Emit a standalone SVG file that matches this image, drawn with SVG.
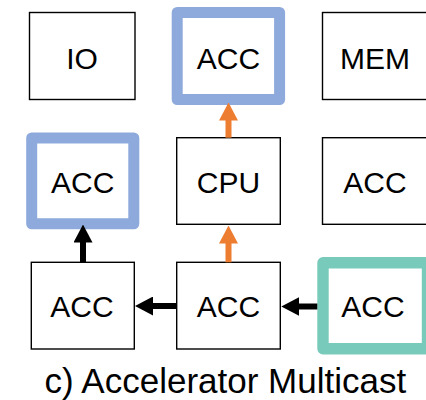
<svg xmlns="http://www.w3.org/2000/svg" width="426" height="400" viewBox="0 0 426 400">
  <style>
    .box { fill: #ffffff; stroke: #000000; stroke-width: 1.4; }
    .blue { fill: #ffffff; stroke: #8eaadc; stroke-width: 11; stroke-linejoin: round; }
    .teal { fill: #ffffff; stroke: #78cbbb; stroke-width: 11.4; stroke-linejoin: round; }
    .label { font-family: "Liberation Sans", Arial, sans-serif; font-size: 30px; fill: #000000; text-anchor: middle; }
    .caption { font-family: "Liberation Sans", Arial, sans-serif; font-size: 35px; fill: #000000; text-anchor: middle; }
    .shaft-black { stroke: #000000; stroke-width: 6; fill: none; }
    .shaft-orange { stroke: #ed7d31; stroke-width: 6; fill: none; }
  </style>
  <defs>
    <marker id="head-black" markerUnits="userSpaceOnUse" markerWidth="18" markerHeight="19" refX="2" refY="9.5" orient="auto">
      <path d="M0,0 L18,9.5 L0,19 Z" fill="#000000"/>
    </marker>
    <marker id="head-orange" markerUnits="userSpaceOnUse" markerWidth="18" markerHeight="19" refX="2" refY="9.5" orient="auto">
      <path d="M0,0 L18,9.5 L0,19 Z" fill="#ed7d31"/>
    </marker>
  </defs>

  <rect width="426" height="400" fill="#ffffff"/>

  <!-- row 1 -->
  <g id="io">
    <rect class="box" x="29.5" y="12.5" width="105.5" height="87"/>
    <text class="label" x="82" y="69">IO</text>
  </g>
  <g id="acc-top">
    <rect class="blue" x="177.2" y="12.5" width="102.4" height="87"/>
    <text class="label" x="228.5" y="69">ACC</text>
  </g>
  <g id="mem">
    <rect class="box" x="322.5" y="12.5" width="105.5" height="87"/>
    <text class="label" x="375" y="69">MEM</text>
  </g>

  <!-- row 2 -->
  <g id="acc-left">
    <rect class="blue" x="31.7" y="138" width="102.1" height="85.8"/>
    <text class="label" x="82.7" y="193">ACC</text>
  </g>
  <g id="cpu">
    <rect class="box" x="176.7" y="137.7" width="103.6" height="86.6"/>
    <text class="label" x="228.5" y="193">CPU</text>
  </g>
  <g id="acc-right">
    <rect class="box" x="322.5" y="137.7" width="105.5" height="86.6"/>
    <text class="label" x="375" y="193">ACC</text>
  </g>

  <!-- row 3 -->
  <g id="acc-bottom-left">
    <rect class="box" x="31.3" y="262.3" width="103" height="86.7"/>
    <text class="label" x="82" y="317.3">ACC</text>
  </g>
  <g id="acc-bottom-mid">
    <rect class="box" x="176.7" y="262.3" width="103.6" height="86.7"/>
    <text class="label" x="228.5" y="317.3">ACC</text>
  </g>
  <g id="acc-source">
    <rect class="teal" x="323" y="262.8" width="104.5" height="86"/>
    <text class="label" x="373" y="317.3">ACC</text>
  </g>

  <!-- connectors -->
  <g id="connectors">
    <line class="shaft-orange" x1="228.5" y1="137.7" x2="228.5" y2="118.5" marker-end="url(#head-orange)"/>
    <line class="shaft-orange" x1="228.5" y1="262.3" x2="228.5" y2="241.5" marker-end="url(#head-orange)"/>
    <line class="shaft-black" x1="83" y1="262.3" x2="83" y2="240.5" marker-end="url(#head-black)"/>
    <line class="shaft-black" x1="176.7" y1="306" x2="151" y2="306" marker-end="url(#head-black)"/>
    <line class="shaft-black" x1="317.3" y1="306.5" x2="297.3" y2="306.5" marker-end="url(#head-black)"/>
  </g>

  <text class="caption" x="225.3" y="392.7">c) Accelerator Multicast</text>
</svg>
